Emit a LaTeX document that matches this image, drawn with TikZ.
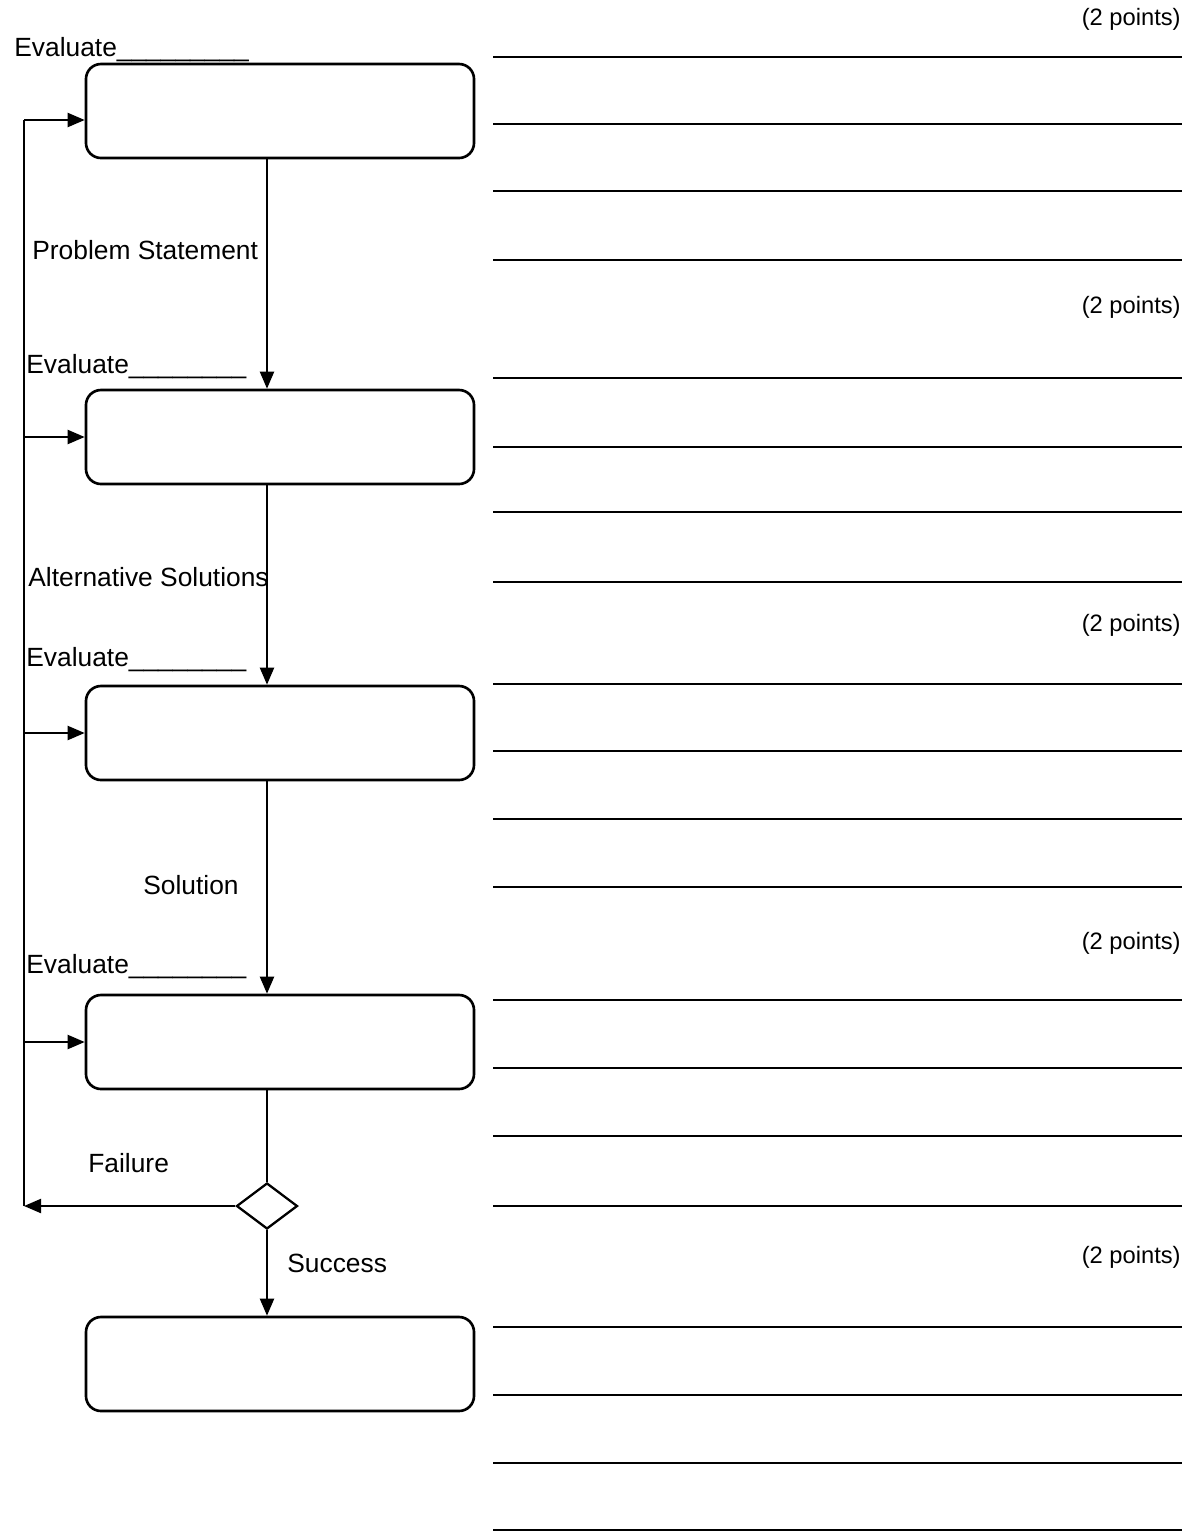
\documentclass[tikz,border=0pt]{standalone}
\usepackage{fontspec}
\setmainfont{Liberation Sans}
\usetikzlibrary{calc,shapes.geometric,arrows.meta}

\begin{document}
\begin{tikzpicture}[x=0.2mm,y=-0.2mm,font=\fontsize{15}{18}\selectfont]
\tikzset{
% Two node styles for the flow: rounded stage box and decision diamond
stage box/.style={draw,rounded corners=0.3cm,minimum width=7.76cm,minimum height=1.88cm,inner sep=0,line width=1.5pt},
decision/.style={draw,diamond,minimum width=1.22cm,minimum height=0.92cm,inner sep=0,line width=1.3pt},
flow/.style={line width=1.2pt},
arr/.style={flow,-{Triangle[length=0.34cm,width=0.28cm]}},
answer/.style={line width=1.6pt},
pts/.style={anchor=base east,inner sep=0,font=\fontsize{13.5}{16}\selectfont},
lbl/.style={anchor=base west,inner sep=0}
}
\useasboundingbox (0,0) rectangle (1195,1533);

% The stages
\node(b1)[stage box] at (280,111) {};
\node(b2)[stage box] at (280,437) {};
\node(b3)[stage box] at (280,733) {};
\node(b4)[stage box] at (280,1042) {};
\node(b5)[stage box] at (280,1364) {};
\node(d)[decision] at (267,1206) {};

% main flow, a little left of the box centres
\coordinate (fx) at (267,0);
\draw[arr] (b1.south -| fx) -- (b2.north -| fx);
\draw[arr] (b2.south -| fx) -- (b3.north -| fx);
\draw[arr] (b3.south -| fx) -- (b4.north -| fx);
\draw[flow] (b4.south -| fx) -- (d.north);
\draw[arr] (d.south) -- (b5.north -| d);

% feedback on failure
\coordinate (fb) at (24,1206);
\coordinate (ft) at (24,120);
\draw[arr] (d.west) -- (fb);
\draw[flow] (fb) -- (ft);
\draw[arr] (ft) -- (b1.west |- ft);
\draw[arr] (b2.west -| ft) -- (b2.west);
\draw[arr] (b3.west -| ft) -- (b3.west);
\draw[arr] (b4.west -| ft) -- (b4.west);

% labels
\node(e1)[lbl] at (14,56) {Evaluate\_\_\_\_\_\_\_\_\_};
\node(e2)[lbl] at (26,373) {Evaluate\_\_\_\_\_\_\_\_};
\node(e3)[lbl] at (26,666) {Evaluate\_\_\_\_\_\_\_\_};
\node(e4)[lbl] at (26,973) {Evaluate\_\_\_\_\_\_\_\_};
\node(l1)[lbl] at (32,259) {Problem Statement};
\node(l2)[lbl] at (28,586) {Alternative Solutions};
\node(l3)[lbl] at (143,894) {Solution};
\node(l4)[lbl] at (88,1172) {Failure};
\node(l5)[lbl] at (287,1272) {Success};

% answer lines and points
\foreach \y in {57,124,191,260,378,447,512,582,684,751,819,887,1000,1068,1136,1206,1327,1395,1463,1530}
  \draw[answer] (493,\y) -- (1182,\y);
\node(p1)[pts] at (1181,25) {(2 points)};
\node(p2)[pts] at (1181,313) {(2 points)};
\node(p3)[pts] at (1181,631) {(2 points)};
\node(p4)[pts] at (1181,949) {(2 points)};
\node(p5)[pts] at (1181,1263) {(2 points)};
\end{tikzpicture}
\end{document}
